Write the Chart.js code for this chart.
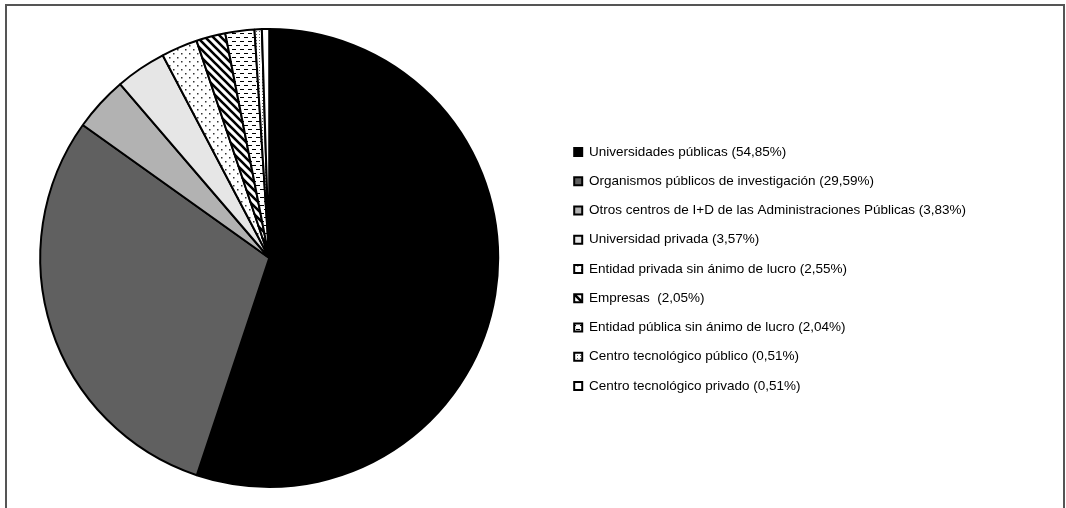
<!DOCTYPE html>
<html>
<head>
<meta charset="utf-8">
<script src="https://cdn.jsdelivr.net/npm/chart.js@4.4.1/dist/chart.umd.min.js"></script>
<style>
  html, body { margin: 0; padding: 0; background: #fff; }
  #wrap { position: relative; width: 1066px; height: 508px; overflow: hidden; }
  #cadre { position: absolute; left: 5px; top: 4px; width: 1060px; height: 520px; border: 2px solid #555; box-sizing: border-box; }
  #c { position: absolute; left: 0; top: 0; }
</style>
</head>
<body>
<div id="wrap">
  <div id="cadre"></div>
  <canvas id="c" width="1066" height="508"></canvas>
</div>
<script>
// données du graphique
const categories = [
  'Universidades públicas (54,85%)',
  'Organismos públicos de investigación (29,59%)',
  'Otros centros de I+D de las Administraciones Públicas (3,83%)',
  'Universidad privada (3,57%)',
  'Entidad privada sin ánimo de lucro (2,55%)',
  'Empresas  (2,05%)',
  'Entidad pública sin ánimo de lucro (2,04%)',
  'Centro tecnológico público (0,51%)',
  'Centro tecnológico privado (0,51%)'
];
const valeurs = [54.85, 29.59, 3.83, 3.57, 2.55, 2.05, 2.04, 0.51, 0.51];

const canvas = document.getElementById('c');
const ctx = canvas.getContext('2d');

// fabrication des motifs (trames) comme dans le graphique d'origine
function motif(w, h, dessin) {
  let tuile = document.createElement('canvas');
  tuile.width = w;
  tuile.height = h;
  let t = tuile.getContext('2d');
  t.fillStyle = '#fff';
  t.fillRect(0, 0, w, h);
  t.fillStyle = '#000';
  t.strokeStyle = '#000';
  dessin(t);
  return ctx.createPattern(tuile, 'repeat');
}

// points espacés
let points = motif(8, 8, t => {
  t.fillStyle = '#333';
  t.fillRect(1, 1, 1.5, 1.5);
  t.fillRect(5, 5, 1.5, 1.5);
});
// hachures diagonales
let hachures = motif(8, 8, t => {
  t.lineWidth = 2.6;
  t.beginPath();
  t.moveTo(-2, -2); t.lineTo(10, 10);
  t.moveTo(-6, 2); t.lineTo(2, 10);
  t.moveTo(6, -2); t.lineTo(10, 2);
  t.stroke();
});
// tirets horizontaux
let tirets = motif(8, 8, t => {
  t.fillRect(0, 1, 4, 1);
  t.fillRect(4, 5, 4, 1);
});
// petits points serrés
let pointsFins = motif(3, 3, t => {
  t.fillStyle = '#666';
  t.fillRect(1, 1, 1, 1);
});

const couleurs = ['#000000', '#606060', '#b2b2b2', '#e6e6e6', points, hachures, tirets, pointsFins, '#ffffff'];

// décalage de la légende pour la placer comme dans l'original
const decaleLegende = {
  id: 'decaleLegende',
  afterLayout(chart) {
    let leg = chart.legend;
    let dx = 58;
    let dy = 11;
    leg.left += dx; leg.right += dx;
    leg.top += dy; leg.bottom += dy;
  }
};

new Chart(canvas, {
  type: 'pie',
  data: {
    labels: categories,
    datasets: [{
      data: valeurs,
      backgroundColor: couleurs,
      borderColor: '#000',
      borderWidth: 2
    }]
  },
  options: {
    responsive: false,
    animation: false,
    events: [],
    layout: {
      padding: { top: 28, bottom: 20, left: 38, right: 148 }
    },
    plugins: {
      legend: {
        position: 'right',
        labels: {
          boxWidth: 8,
          boxHeight: 8,
          padding: 15.75,
          color: '#000',
          font: { family: 'Liberation Sans, Arial, sans-serif', size: 13.5 }
        }
      },
      tooltip: { enabled: false }
    }
  },
  plugins: [decaleLegende]
});
</script>
</body>
</html>
